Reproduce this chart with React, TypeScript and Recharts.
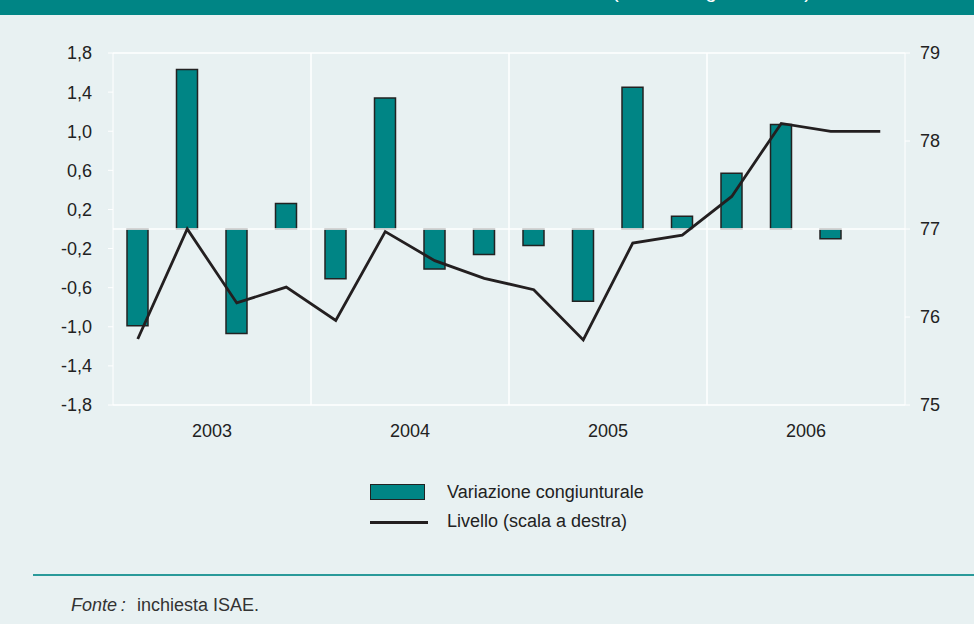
import React from "react";
import {
  ComposedChart,
  XAxis,
  YAxis,
  Bar,
  Line,
  ReferenceLine
} from "recharts";

const quarters = [
  "2003 T1", "2003 T2", "2003 T3", "2003 T4",
  "2004 T1", "2004 T2", "2004 T3", "2004 T4",
  "2005 T1", "2005 T2", "2005 T3", "2005 T4",
  "2006 T1", "2006 T2", "2006 T3", "2006 T4"
];
const years = ["2003", "2004", "2005", "2006"];
const variazione = [
  -0.99, 1.63, -1.07, 0.26,
  -0.51, 1.34, -0.41, -0.26,
  -0.17, -0.74, 1.45, 0.13,
  0.57, 1.07, -0.1, null
];
const livello = [
  75.75, 77.0, 76.16, 76.34,
  75.96, 76.97, 76.64, 76.44,
  76.31, 75.74, 76.84, 76.93,
  77.37, 78.2, 78.11, 78.11
];
const leftTicks = [1.8, 1.4, 1.0, 0.6, 0.2, -0.2, -0.6, -1.0, -1.4, -1.8];
const rightTicks = [75, 76, 77, 78, 79];

const BG = "#e8f1f2";
const TEAL = "#008585";
const FONT = "'Liberation Sans', Arial, sans-serif";

const data = quarters.map((q, i) => ({
  q,
  x: i + 0.5,
  v: variazione[i],
  l: livello[i]
}));

const fmt = (v: number) => v.toFixed(1).replace(".", ",");

export default function App() {
  return (
    <div style={{ position: "relative", width: 974, height: 624, background: BG, fontFamily: FONT, overflow: "hidden" }}>
      <style>{"body{margin:0}"}</style>
      <div style={{ position: "absolute", left: 0, top: 0, width: 974, height: 15, background: TEAL, overflow: "hidden" }}>
        <div style={{ position: "absolute", left: 612, top: -19, color: "#fff", fontSize: 20, lineHeight: "20px", whiteSpace: "nowrap" }}>
          (dati destagionalizzati)
        </div>
      </div>
      <div style={{ position: "absolute", left: 0, top: 0 }}>
        <ComposedChart width={974} height={460} data={data} margin={{ top: 53, right: 0, bottom: 15, left: 0 }}>
          <XAxis
            dataKey="x"
            type="number"
            domain={[0, 16]}
            ticks={[2, 6, 10, 14]}
            tickFormatter={(v: number) => years[Math.floor(v / 4)]}
            axisLine={false}
            tickLine={false}
            tickSize={0}
            tickMargin={19}
            height={40}
            tick={{ fill: "#222", fontSize: 18, fontFamily: FONT }}
          />
          <YAxis
            yAxisId="left"
            domain={[-1.8, 1.8]}
            ticks={leftTicks}
            tickFormatter={fmt}
            width={113}
            axisLine={{ stroke: "#fff" }}
            tickLine={{ stroke: "#fff" }}
            tickSize={5}
            tickMargin={16}
            tick={{ fill: "#222", fontSize: 18, fontFamily: FONT }}
          />
          <YAxis
            yAxisId="right"
            orientation="right"
            domain={[75, 79]}
            ticks={rightTicks}
            width={69}
            axisLine={{ stroke: "#fff" }}
            tickLine={{ stroke: "#fff" }}
            tickSize={5}
            tickMargin={10}
            tick={{ fill: "#222", fontSize: 18, fontFamily: FONT }}
          />
          {[75, 77, 79].map(y => (
            <ReferenceLine key={y} yAxisId="right" y={y} stroke="#fff" strokeWidth={1.5} />
          ))}
          {[4, 8, 12].map(x => (
            <ReferenceLine key={x} yAxisId="left" x={x} stroke="#fff" strokeWidth={1.5} />
          ))}
          <Bar
            yAxisId="left"
            dataKey="v"
            barSize={21}
            fill={TEAL}
            stroke="#222"
            strokeWidth={1.5}
            isAnimationActive={false}
          />
          <Line
            yAxisId="right"
            dataKey="l"
            stroke="#231f20"
            strokeWidth={2.8}
            dot={false}
            isAnimationActive={false}
          />
        </ComposedChart>
      </div>
      <div style={{ position: "absolute", left: 370, top: 484, width: 55, height: 16, background: TEAL, border: "1px solid #222", boxSizing: "border-box" }} />
      <div style={{ position: "absolute", left: 447, top: 482, fontSize: 18, color: "#222", whiteSpace: "nowrap" }}>Variazione congiunturale</div>
      <div style={{ position: "absolute", left: 370, top: 521, width: 58, height: 2.5, background: "#231f20" }} />
      <div style={{ position: "absolute", left: 447, top: 511, fontSize: 18, color: "#222", whiteSpace: "nowrap" }}>Livello (scala a destra)</div>
      <div style={{ position: "absolute", left: 33, top: 574, width: 941, height: 1.5, background: "#2a9a9a" }} />
      <div style={{ position: "absolute", left: 71, top: 595, fontSize: 18, color: "#333", whiteSpace: "nowrap" }}>
        <i>Fonte{"\u2009"}:</i>
      </div>
      <div style={{ position: "absolute", left: 137, top: 595, fontSize: 18, color: "#333", whiteSpace: "nowrap" }}>
        inchiesta ISAE.
      </div>
    </div>
  );
}
